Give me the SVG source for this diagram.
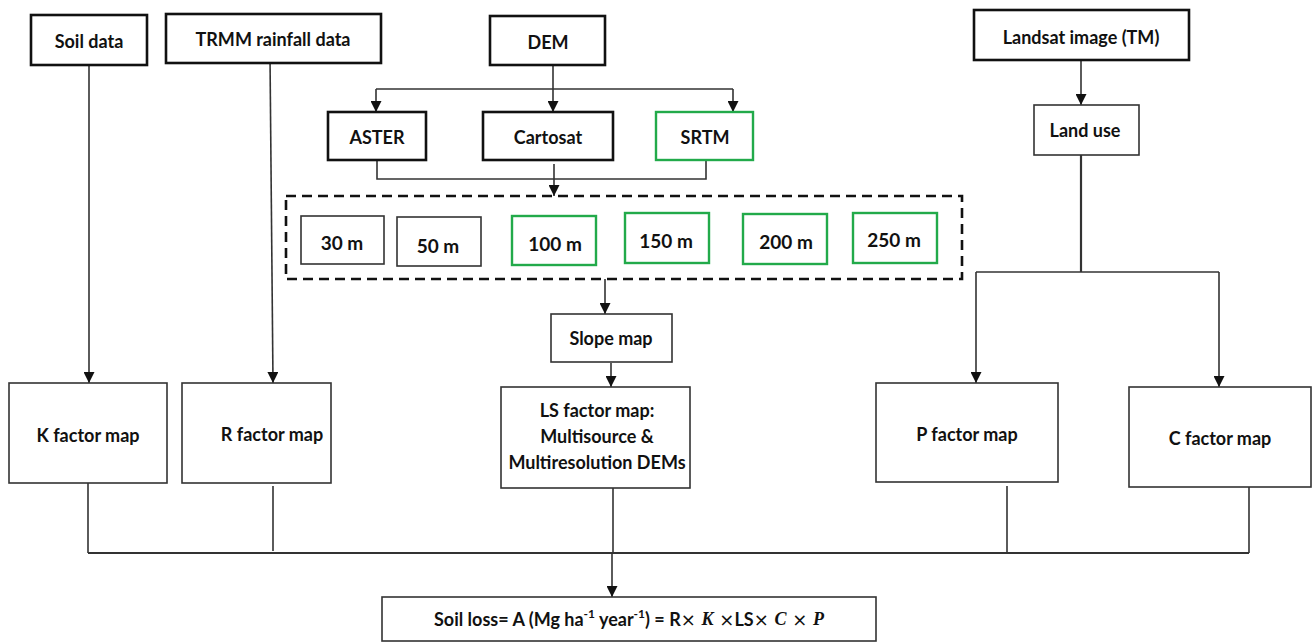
<svg xmlns="http://www.w3.org/2000/svg" width="1312" height="642" viewBox="0 0 1312 642">
<defs>
<marker id="arr" viewBox="0 0 10 10" refX="10" refY="5" markerWidth="11" markerHeight="11" markerUnits="userSpaceOnUse" orient="auto">
<path d="M0,0 L10,5 L0,10 z" fill="#111"/>
</marker>
<style>
.thick{fill:#fff;stroke:#111;stroke-width:2.6}
.thin{fill:#fff;stroke:#333;stroke-width:1.6}
.green{fill:#fff;stroke:#22aa4a;stroke-width:2.4}
.t{font-family:Lato,"Liberation Sans",sans-serif;font-weight:bold;font-size:18px;fill:#111;text-anchor:middle;dominant-baseline:central}
.s{font-size:19px}
.c{fill:none;stroke:#333;stroke-width:1.6}
.ca{fill:none;stroke:#333;stroke-width:1.6;marker-end:url(#arr)}
.m{font-family:"Liberation Serif","DejaVu Serif",serif;font-style:italic;font-weight:bold}
.x{font-family:"DejaVu Sans","Liberation Sans",sans-serif;font-weight:normal}
</style>
</defs>
<g id="connectors">
<line class="ca" x1="89" y1="65" x2="89" y2="383"/>
<line class="ca" x1="270" y1="57" x2="273" y2="383"/>
<line class="c" x1="553" y1="65" x2="553" y2="89"/>
<polyline class="c" points="376,89 733,89"/>
<line class="ca" x1="376" y1="89" x2="376" y2="112"/>
<line class="ca" x1="553" y1="89" x2="553" y2="112"/>
<line class="ca" x1="733" y1="89" x2="733" y2="112"/>
<polyline class="c" points="377,160 377,179 706,179 706,160"/>
<line class="ca" x1="554" y1="164" x2="554" y2="196"/>
<line class="ca" x1="605" y1="279" x2="605" y2="314"/>
<line class="ca" x1="611" y1="363" x2="611" y2="387"/>
<line class="ca" x1="1081" y1="60" x2="1081" y2="105"/>
<line class="c" x1="1081" y1="155" x2="1081" y2="272" style="stroke-width:2.2"/>
<polyline class="c" points="976,272 1219,272"/>
<line class="ca" x1="976" y1="272" x2="976" y2="383"/>
<line class="ca" x1="1219" y1="272" x2="1219" y2="387"/>
<line class="c" x1="88" y1="483" x2="88" y2="553"/>
<line class="c" x1="273" y1="486" x2="273" y2="551"/>
<line class="c" x1="613" y1="488" x2="613" y2="553"/>
<line class="c" x1="1007" y1="486" x2="1007" y2="553"/>
<line class="c" x1="1249" y1="487" x2="1249" y2="553"/>
<line class="c" x1="88" y1="553" x2="1249" y2="553" style="stroke-width:2"/>
<line class="ca" x1="612" y1="553" x2="612" y2="597"/>
</g>
<g id="n-soil"><rect class="thick" x="31" y="15" width="116" height="50"/><text class="t" x="89" y="41">Soil data</text></g>
<g id="n-trmm"><rect class="thick" x="166" y="14" width="215" height="49"/><text class="t" x="273" y="39">TRMM rainfall data</text></g>
<g id="n-dem"><rect class="thick" x="490" y="16" width="115" height="49"/><text class="t" x="548" y="42">DEM</text></g>
<g id="n-aster"><rect class="thick" x="328" y="112" width="98" height="48"/><text class="t" x="377" y="137">ASTER</text></g>
<g id="n-cartosat"><rect class="thick" x="483" y="112" width="130" height="48"/><text class="t" x="548" y="137">Cartosat</text></g>
<g id="n-srtm"><rect class="green" x="656" y="112" width="97" height="48"/><text class="t" x="705" y="137">SRTM</text></g>
<g id="n-landsat"><rect class="thick" x="974" y="10" width="215" height="50"/><text class="t" x="1081" y="37">Landsat image (TM)</text></g>
<g id="n-landuse"><rect class="thin" x="1034" y="105" width="105" height="50"/><text class="t" x="1085" y="130">Land use</text></g>
<g id="n-resolutions">
<rect x="286" y="196" width="676" height="83" fill="none" stroke="#111" stroke-width="2.6" stroke-dasharray="10,6"/>
</g>
<g id="n-30"><rect class="thin" x="301" y="216" width="83" height="48"/><text class="t s" x="342" y="242">30 m</text></g>
<g id="n-50"><rect class="thin" x="397" y="217" width="84" height="49"/><text class="t s" x="438" y="245">50 m</text></g>
<g id="n-100"><rect class="green" x="512" y="216" width="84" height="49"/><text class="t s" x="555" y="243">100 m</text></g>
<g id="n-150"><rect class="green" x="625" y="213" width="84" height="50"/><text class="t s" x="666" y="240">150 m</text></g>
<g id="n-200"><rect class="green" x="743" y="214" width="84" height="50"/><text class="t s" x="786" y="241">200 m</text></g>
<g id="n-250"><rect class="green" x="853" y="213" width="84" height="50"/><text class="t s" x="894" y="239">250 m</text></g>
<g id="n-slope"><rect class="thin" x="551" y="314" width="121" height="48"/><text class="t" x="611" y="338">Slope map</text></g>
<g id="n-k"><rect class="thin" x="9" y="383" width="158" height="100"/><text class="t" x="88" y="435">K factor map</text></g>
<g id="n-r"><rect class="thin" x="182" y="383" width="149" height="100"/><text class="t" x="272" y="434">R factor map</text></g>
<g id="n-ls"><rect class="thin" x="501" y="387" width="189" height="101"/>
<text class="t" x="597" y="410">LS factor map:</text>
<text class="t" x="597" y="436">Multisource &amp;</text>
<text class="t" x="597" y="462">Multiresolution DEMs</text></g>
<g id="n-p"><rect class="thin" x="876" y="383" width="182" height="99"/><text class="t" x="967" y="434">P factor map</text></g>
<g id="n-c"><rect class="thin" x="1129" y="387" width="182" height="100"/><text class="t" x="1220" y="438">C factor map</text></g>
<g id="n-soilloss"><rect class="thin" x="382" y="597" width="494" height="44"/>
<text class="t" x="629" y="619">Soil loss= A (Mg ha<tspan font-size="12" dy="-6">-1</tspan><tspan dy="6"> year</tspan><tspan font-size="12" dy="-6">-1</tspan><tspan dy="6">) = R</tspan><tspan class="x">× </tspan><tspan class="m">K</tspan><tspan class="x"> ×</tspan>LS<tspan class="x">× </tspan><tspan class="m">C</tspan><tspan class="x"> × </tspan><tspan class="m">P</tspan></text></g>
</svg>
